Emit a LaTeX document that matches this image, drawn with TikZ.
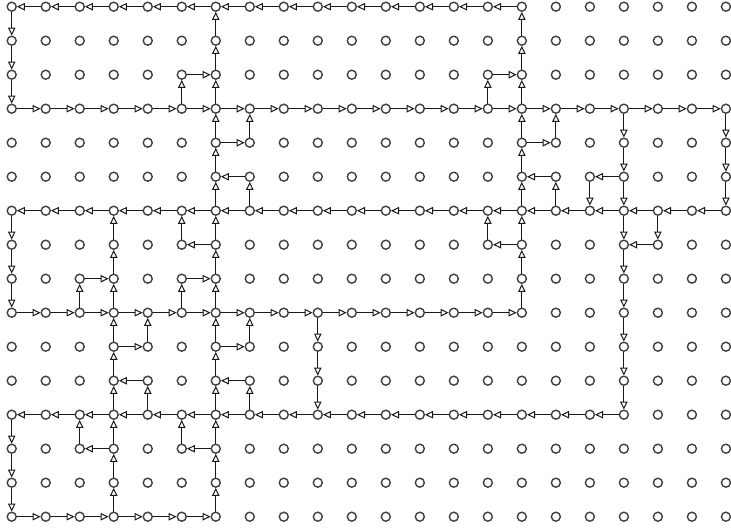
\documentclass[tikz,border=0pt]{standalone}
\usetikzlibrary{arrows.meta}
\begin{document}
\begin{tikzpicture}[x=1pt,y=-1pt,
  dot/.style={circle,draw=black!75,line width=1.4pt,minimum size=9pt,inner sep=0pt,fill=white},
  link/.style={draw=black!90,line width=1.1pt,-{Triangle[open,length=8pt,width=7.5pt,line width=1pt]}}]
\useasboundingbox (0,0) rectangle (731,531);
\foreach \c in {0,...,21}{
  \foreach \r in {0,...,15}{
    \node[dot] (n\c-\r) at ({11.7+34.01*\c},{6.7+34*\r}) {};
  }
}
% horizontal runs
\foreach \c in {0,...,14}{\pgfmathtruncatemacro\d{\c+1}\draw[link] (n\d-0) -- (n\c-0);}
\foreach \c in {0,...,20}{\pgfmathtruncatemacro\d{\c+1}\draw[link] (n\c-3) -- (n\d-3);}
\foreach \c in {0,...,20}{\pgfmathtruncatemacro\d{\c+1}\draw[link] (n\d-6) -- (n\c-6);}
\foreach \c in {0,...,14}{\pgfmathtruncatemacro\d{\c+1}\draw[link] (n\c-9) -- (n\d-9);}
\foreach \c in {0,...,17}{\pgfmathtruncatemacro\d{\c+1}\draw[link] (n\d-12) -- (n\c-12);}
\foreach \c in {0,...,5}{\pgfmathtruncatemacro\d{\c+1}\draw[link] (n\c-15) -- (n\d-15);}
% vertical runs
\foreach \r in {0,1,2,6,7,8,12,13,14}{\pgfmathtruncatemacro\s{\r+1}\draw[link] (n0-\r) -- (n0-\s);}
\foreach \r in {0,...,14}{\pgfmathtruncatemacro\s{\r+1}\draw[link] (n6-\s) -- (n6-\r);}
\foreach \r in {0,...,8}{\pgfmathtruncatemacro\s{\r+1}\draw[link] (n15-\s) -- (n15-\r);}
\foreach \r in {6,...,14}{\pgfmathtruncatemacro\s{\r+1}\draw[link] (n3-\s) -- (n3-\r);}
\foreach \r in {3,...,11}{\pgfmathtruncatemacro\s{\r+1}\draw[link] (n18-\r) -- (n18-\s);}
\foreach \r in {3,4,5}{\pgfmathtruncatemacro\s{\r+1}\draw[link] (n21-\r) -- (n21-\s);}
\foreach \r in {9,10,11}{\pgfmathtruncatemacro\s{\r+1}\draw[link] (n9-\r) -- (n9-\s);}
% single links
\foreach \a/\b in {5-3/5-2, 5-2/6-2, 6-4/7-4, 7-4/7-3, 7-5/6-5, 7-6/7-5,
  14-3/14-2, 14-2/15-2, 15-4/16-4, 16-4/16-3, 16-5/15-5, 16-6/16-5,
  18-5/17-5, 17-5/17-6, 14-7/14-6, 15-7/14-7, 19-6/19-7, 19-7/18-7,
  2-9/2-8, 2-8/3-8, 5-7/5-6, 6-7/5-7, 5-9/5-8, 5-8/6-8,
  4-10/4-9, 3-10/4-10, 6-10/7-10, 7-10/7-9, 4-11/3-11, 4-12/4-11,
  7-11/6-11, 7-12/7-11, 2-13/2-12, 3-13/2-13, 5-13/5-12, 6-13/5-13}
  {\draw[link] (n\a) -- (n\b);}
\end{tikzpicture}
\end{document}
